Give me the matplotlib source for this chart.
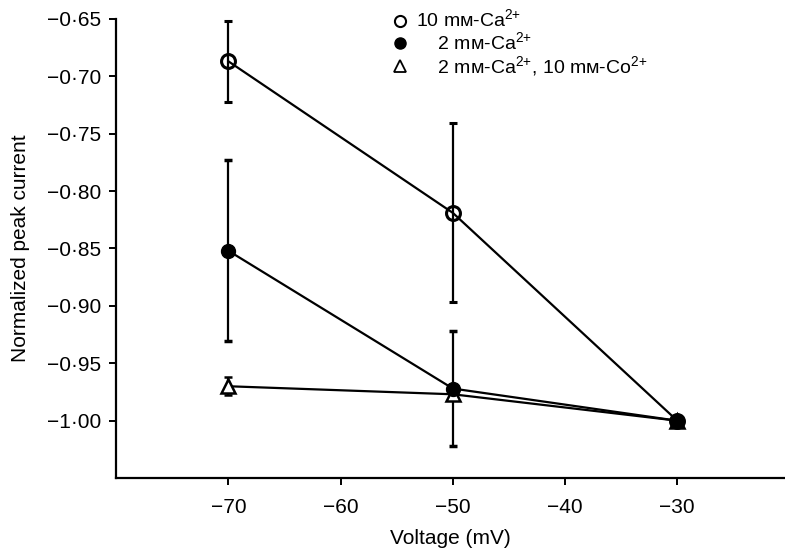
import numpy as np
import matplotlib
matplotlib.use("Agg")
from matplotlib import pyplot as plt
from matplotlib.lines import Line2D

plt.rcParams['font.family'] = ['Liberation Sans', 'DejaVu Sans']
plt.rcParams['mathtext.fontset'] = 'custom'
plt.rcParams['mathtext.rm'] = 'Liberation Sans'

# data
voltage = [-70, -50, -30]
ca10 = [-0.687, -0.819, -1.000]
ca10_err = [0.035, 0.078, np.nan]
ca2 = [-0.852, -0.972, -1.000]
ca2_err = [0.079, 0.050, np.nan]
co10 = [-0.970, -0.977, -1.000]
co10_err = [0.008, np.nan, np.nan]

xticks = [-70, -60, -50, -40, -30]
yticks = [-0.65, -0.70, -0.75, -0.80, -0.85, -0.90, -0.95, -1.00]

sup = r'$^{\mathregular{2{+}}}$'
labels = ['10 mм-Ca' + sup,
          '\u2007\u20072 mм-Ca' + sup,
          '\u2007\u20072 mм-Ca' + sup + ', 10 mм-Co' + sup]


def fmt(v):
    s = '%.2f' % abs(v)
    return '\u2212' + s.replace('.', '\u00b7')


fig = plt.figure(figsize=(7.85, 5.54), dpi=100)
ax = fig.add_axes([0.148, 0.137, 0.852, 0.829])

common = dict(color='black', lw=1.6, elinewidth=1.6, capsize=3, capthick=2.5, markersize=10)
ax.errorbar(voltage, co10, yerr=co10_err, marker='^', mfc='white', mec='black', mew=1.8, **common)
ax.errorbar(voltage, ca2, yerr=ca2_err, marker='o', mfc='black', mec='black', **common)
ax.errorbar(voltage, ca10, yerr=ca10_err, marker='o', mfc='none', mec='black', mew=2.2, **common)

ax.set_xlim(-80, -20.4)
ax.set_ylim(-1.05, -0.65)
ax.set_xticks(xticks)
ax.set_xticklabels([('\u2212%d' % abs(v)) for v in xticks])
ax.set_yticks(yticks)
ax.set_yticklabels([fmt(v) for v in yticks])
ax.tick_params(direction='out', length=5, width=1.4, labelsize=15, pad=6)
ax.tick_params(axis='x', pad=9)

for s in ['top', 'right']:
    ax.spines[s].set_visible(False)
for s in ['left', 'bottom']:
    ax.spines[s].set_linewidth(1.6)

ax.set_xlabel('Voltage (mV)', fontsize=15, labelpad=9)
ax.set_ylabel('Normalized peak current', fontsize=15, labelpad=12)

handles = [Line2D([], [], ls='none', marker='o', mfc='white', mec='black', mew=1.5, ms=8),
           Line2D([], [], ls='none', marker='o', mfc='black', mec='black', ms=8),
           Line2D([], [], ls='none', marker='^', mfc='white', mec='black', mew=1.3, ms=8)]
ax.legend(handles, labels, loc='upper left', bbox_to_anchor=(0.385, 1.06), frameon=False,
          fontsize=14, handlelength=0.9, handletextpad=0.4, labelspacing=0.0)

fig.savefig('out.png', dpi=100)
